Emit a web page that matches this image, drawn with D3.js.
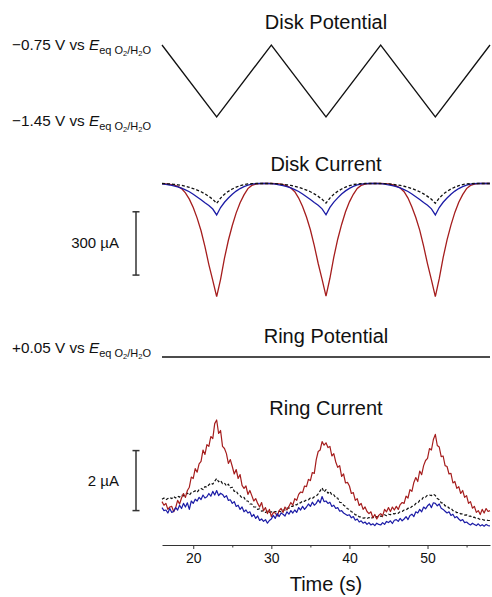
<!DOCTYPE html>
<html><head><meta charset="utf-8">
<script src="https://cdn.jsdelivr.net/npm/d3@7"></script>
<style>
html,body{margin:0;padding:0;background:#fff;}
svg{display:block;font-family:"Liberation Sans",Arial,Helvetica,sans-serif;}
</style></head>
<body><svg id="c" width="492" height="597"></svg>
<script>
// ---------- DATA ----------
const panelTitles = ["Disk Potential", "Disk Current", "Ring Potential", "Ring Current"];
const xTickValues = [20, 30, 40, 50];
const xMinorTicks = [25, 35, 45, 55];
const xLabel = "Time (s)";

// Disk potential (V vs E_eq O2/H2O): triangular sweep vertices
const diskPotTime = [16, 23, 30, 37, 44, 51, 58];
const diskPotValue = [-0.75, -1.45, -0.75, -1.45, -0.75, -1.45, -0.75];
const diskPotLabels = ["−0.75", "−1.45"];

// Ring potential
const ringPotTime = [16, 58];
const ringPotValue = [0.05, 0.05];
const ringPotLabel = "+0.05";

// Disk current (µA), sampled every 0.5 s from 16 s to 58 s
const diskStart = 16, diskStep = 0.5;
const diskRed = [
 -2,-3,-5,-8,-14,-25,-45,-75,-115,-165,-225,-300,-385,-460,-537,-455,-355,-270,-200,-140,-92,-55,-25,-10,-4,-2,-1,-1,
 -1,-2,-3,-6,-12,-22,-40,-70,-110,-160,-220,-295,-380,-455,-535,-450,-350,-265,-195,-135,-88,-52,-24,-10,-4,-2,-1,-1,
 -1,-2,-3,-6,-12,-22,-40,-70,-112,-162,-222,-298,-382,-458,-537,-452,-352,-268,-198,-138,-90,-54,-25,-10,-4,-2,-1,-1,-1];
const diskBlue = [
 -3,-5,-8,-12,-17,-23,-31,-40,-52,-65,-78,-92,-105,-122,-150,-115,-90,-70,-52,-37,-25,-16,-9,-4,-2,-1,-1,-1,
 -2,-4,-7,-11,-16,-22,-30,-39,-51,-64,-77,-91,-104,-121,-149,-114,-89,-69,-51,-36,-24,-15,-8,-4,-2,-1,-1,-1,
 -2,-4,-7,-11,-16,-22,-30,-39,-51,-64,-77,-91,-104,-121,-150,-115,-90,-70,-52,-37,-25,-16,-9,-4,-2,-1,-1,-1,-1];
const diskBlack = [
 -1,-2,-3,-5,-7,-10,-14,-19,-25,-32,-40,-50,-62,-76,-95,-70,-52,-38,-27,-18,-11,-6,-3,-2,-1,-1,-1,-1,
 -1,-2,-3,-5,-7,-10,-14,-19,-25,-32,-40,-50,-62,-76,-94,-70,-52,-38,-27,-18,-11,-6,-3,-2,-1,-1,-1,-1,
 -1,-2,-3,-5,-7,-10,-14,-19,-25,-32,-40,-50,-62,-76,-95,-70,-52,-38,-27,-18,-11,-6,-3,-2,-1,-1,-1,-1,-1];
const diskScaleBar = [-135, -435];   // 300 µA bar
const diskScaleLabel = "300 µA";

// Ring current (µA, relative), sampled every 0.25 s from 16 s to 58 s
const ringStart = 16, ringStep = 0.25;
const ringRed = [
 0.78,0.66,0.72,0.52, 0.60,0.62,0.44,0.58, 0.82,0.70,0.90,1.05, 0.92,1.15,1.26,1.60,
 1.55,1.88,1.76,2.04, 2.12,2.50,2.35,2.68, 2.62,2.95,2.88,3.38, 3.50,3.05,3.15,2.62,
 2.55,2.38,2.05,2.18, 1.95,1.70,1.85,1.55, 1.68,1.32,1.22,1.30, 1.02,1.15,0.98,0.80,
 0.88,0.72,0.60,0.75, 0.48,0.58,0.38,0.52, 0.28,0.42,0.40,0.30, 0.48,0.55,0.42,0.60,
 0.50,0.62,0.75,0.66, 0.88,0.82,1.02,1.10, 1.08,1.30,1.28,1.52, 1.48,1.75,1.72,2.18,
 2.45,2.50,2.78,2.66, 2.74,2.58,2.62,2.30, 2.38,2.10,1.92,1.98, 1.62,1.70,1.40,1.42,
 1.30,1.05,1.08,0.82, 0.88,0.65,0.72,0.52, 0.60,0.45,0.38,0.44, 0.24,0.35,0.20,0.32,
 0.38,0.30,0.52,0.44, 0.58,0.45,0.60,0.50, 0.62,0.52,0.68,0.75, 0.72,0.96,0.90,1.18,
 1.12,1.42,1.58,1.45, 1.80,1.68,1.98,2.15, 2.22,2.55,2.50,2.85, 3.02,2.65,2.60,2.28,
 2.30,1.98,1.95,1.70, 1.72,1.40,1.45,1.22, 1.28,1.05,1.15,0.92, 0.98,0.72,0.78,0.56,
 0.62,0.42,0.48,0.35, 0.52,0.40,0.55,0.45, 0.48];
const ringBlue = [
 0.58,0.48,0.50,0.40, 0.55,0.42,0.46,0.58, 0.50,0.66,0.55,0.72, 0.60,0.74,0.52,0.80,
 0.72,0.86,0.80,0.92, 0.85,1.00,0.90,0.94, 1.05,0.96,1.12,1.00, 1.15,0.98,1.06,1.02,
 0.92,0.98,0.82,0.84, 0.72,0.78,0.62,0.66, 0.52,0.60,0.44,0.50, 0.40,0.44,0.28,0.35,
 0.22,0.30,0.15,0.20, 0.12,0.18,0.06,0.15, 0.20,0.32,0.22,0.38, 0.28,0.40,0.36,0.30,
 0.44,0.36,0.48,0.40, 0.50,0.42,0.58,0.50, 0.62,0.52,0.60,0.70, 0.62,0.76,0.66,0.72,
 0.84,0.74,0.95,0.78, 0.80,0.72,0.76,0.62, 0.66,0.55,0.58,0.46, 0.48,0.40,0.36,0.32,
 0.34,0.24,0.28,0.16, 0.20,0.10,0.14,0.06, 0.10,0.02,0.08,0.00, 0.04,-0.02,0.06,0.02,
 0.00,0.08,0.02,0.12, 0.08,0.14,0.05,0.16, 0.18,0.12,0.22,0.14, 0.20,0.28,0.18,0.32,
 0.36,0.28,0.44,0.40, 0.52,0.44,0.60,0.54, 0.64,0.70,0.58,0.74, 0.72,0.64,0.70,0.56,
 0.52,0.46,0.40,0.44, 0.32,0.36,0.24,0.28, 0.20,0.14,0.18,0.08, 0.10,0.04,0.00,0.06,
 0.02,-0.02,0.04,-0.03, 0.01,-0.04,0.02,-0.02, -0.03];
const ringBlack = [
 0.86,0.90,0.84,0.88, 0.92,0.88,0.95,0.90, 0.96,0.93,1.00,0.97, 1.02,1.06,0.99,1.08,
 1.10,1.14,1.09,1.18, 1.22,1.18,1.28,1.26, 1.34,1.40,1.36,1.46, 1.55,1.44,1.48,1.38,
 1.40,1.30,1.36,1.24, 1.26,1.12,1.14,1.02, 0.98,0.90,0.92,0.80, 0.80,0.70,0.70,0.60,
 0.60,0.52,0.54,0.46, 0.48,0.42,0.46,0.42, 0.44,0.41,0.45,0.43, 0.46,0.44,0.50,0.50,
 0.56,0.56,0.62,0.62, 0.68,0.67,0.74,0.74, 0.80,0.79,0.84,0.84, 0.90,0.88,0.94,0.96,
 1.04,1.14,1.24,1.10, 1.18,1.06,1.12,1.00, 1.01,0.90,0.90,0.76, 0.74,0.66,0.62,0.54,
 0.52,0.44,0.42,0.34, 0.34,0.27,0.27,0.23, 0.24,0.21,0.25,0.21, 0.26,0.23,0.28,0.26,
 0.30,0.28,0.34,0.31, 0.36,0.34,0.38,0.37, 0.40,0.39,0.45,0.45, 0.50,0.50,0.56,0.55,
 0.62,0.63,0.72,0.73, 0.82,0.84,0.94,0.93, 1.00,1.00,0.98,1.03, 0.98,0.88,0.84,0.74,
 0.74,0.64,0.64,0.56, 0.56,0.48,0.47,0.41, 0.42,0.37,0.37,0.33, 0.34,0.29,0.30,0.25,
 0.26,0.21,0.22,0.18, 0.19,0.16,0.17,0.15, 0.15];
const ringScaleBar = [0.48, 2.48];   // 2 µA bar
const ringScaleLabel = "2 µA";

// ---------- DRAW ----------
const RED = "#a51d1d", BLUE = "#1b1ba6", BLACK = "#111";
const svg = d3.select("#c");
const x = d3.scaleLinear().domain([16, 58]).range([162, 490]);
const yPot = d3.scaleLinear().domain([-0.75, -1.45]).range([45, 117]);
const yDisk = d3.scaleLinear().domain([0, -300]).range([183.3, 246.6]);
const yRingPot = d3.scaleLinear().domain([0, 0.1]).range([369, 345]);
const yRing = d3.scaleLinear().domain([0, 2]).range([525, 465]);

const cx = (x.range()[0] + x.range()[1]) / 2;
const titleY = [29, 171, 343, 415];
panelTitles.forEach((t, i) => {
  svg.append("text").attr("x", cx).attr("y", titleY[i]).attr("text-anchor", "middle")
    .attr("font-size", 20).attr("fill", "#111").text(t);
});

function line(ys) { return d3.line().x(d => x(d[0])).y(d => ys(d[1])); }
function series(start, step, vals) { return vals.map((v, i) => [start + i * step, v]); }

// Disk potential
svg.append("path").datum(diskPotTime.map((t, i) => [t, diskPotValue[i]]))
  .attr("d", line(yPot)).attr("fill", "none").attr("stroke", BLACK).attr("stroke-width", 1.3);

// Ring potential
svg.append("path").datum(ringPotTime.map((t, i) => [t, ringPotValue[i]]))
  .attr("d", line(yRingPot)).attr("fill", "none").attr("stroke", BLACK).attr("stroke-width", 1.3);

// Potential labels
function potLabel(val, yBase) {
  const t = svg.append("text").attr("x", 12).attr("y", yBase).attr("font-size", 15.3).attr("fill", "#111");
  t.append("tspan").text(val + " V vs ");
  t.append("tspan").attr("font-style", "italic").text("E");
  t.append("tspan").attr("dy", 4).attr("font-size", 11).text("eq O");
  t.append("tspan").attr("dy", 2).attr("font-size", 7.5).text("2");
  t.append("tspan").attr("dy", -2).attr("font-size", 11).text("/H");
  t.append("tspan").attr("dy", 2).attr("font-size", 7.5).text("2");
  t.append("tspan").attr("dy", -2).attr("font-size", 11).text("O");
}
potLabel(diskPotLabels[0], yPot(-0.75) + 5);
potLabel(diskPotLabels[1], yPot(-1.45) + 9);
potLabel(ringPotLabel, yRingPot(0.05) - 4);

// Disk currents
[[diskRed, RED, null], [diskBlue, BLUE, null], [diskBlack, BLACK, "3,2"]].forEach(([v, c, dash]) => {
  svg.append("path").datum(series(diskStart, diskStep, v)).attr("d", line(yDisk))
    .attr("fill", "none").attr("stroke", c).attr("stroke-width", 1.3)
    .attr("stroke-dasharray", dash);
});

// Ring currents
[[ringBlack, BLACK, "3,2"], [ringRed, RED, null], [ringBlue, BLUE, null]].forEach(([v, c, dash]) => {
  svg.append("path").datum(series(ringStart, ringStep, v)).attr("d", line(yRing))
    .attr("fill", "none").attr("stroke", c).attr("stroke-width", 1.2)
    .attr("stroke-dasharray", dash).attr("stroke-linejoin", "round");
});

// Scale bars
function scaleBar(ys, vals, label) {
  const bx = 136, y0 = ys(vals[0]), y1 = ys(vals[1]);
  const g = svg.append("g").attr("stroke", "#333").attr("stroke-width", 1.5);
  g.append("line").attr("x1", bx).attr("x2", bx).attr("y1", y0).attr("y2", y1);
  g.append("line").attr("x1", bx - 3.5).attr("x2", bx + 3.5).attr("y1", y0).attr("y2", y0);
  g.append("line").attr("x1", bx - 3.5).attr("x2", bx + 3.5).attr("y1", y1).attr("y2", y1);
  svg.append("text").attr("x", 119).attr("y", (y0 + y1) / 2 + 5).attr("text-anchor", "end")
    .attr("font-size", 15).attr("fill", "#111").text(label);
}
scaleBar(yDisk, diskScaleBar, diskScaleLabel);
scaleBar(yRing, ringScaleBar, ringScaleLabel);

// X axis
const axisY = 545;
const ax = svg.append("g").attr("transform", `translate(0,${axisY})`)
  .call(d3.axisBottom(x).tickValues(xTickValues).tickSize(4).tickSizeOuter(0).tickPadding(4));
ax.select(".domain").attr("stroke", "#333");
ax.selectAll(".tick line").attr("stroke", "#333");
ax.selectAll(".tick text").attr("font-size", 14).attr("fill", "#111")
  .attr("font-family", '"Liberation Sans",Arial,sans-serif');
const axm = svg.append("g").attr("transform", `translate(0,${axisY})`)
  .call(d3.axisBottom(x).tickValues(xMinorTicks).tickSize(2.5).tickSizeOuter(0).tickFormat(""));
axm.select(".domain").remove();
axm.selectAll(".tick line").attr("stroke", "#333");

svg.append("text").attr("x", cx).attr("y", 591).attr("text-anchor", "middle")
  .attr("font-size", 20).attr("fill", "#111").text(xLabel);
</script></body></html>
